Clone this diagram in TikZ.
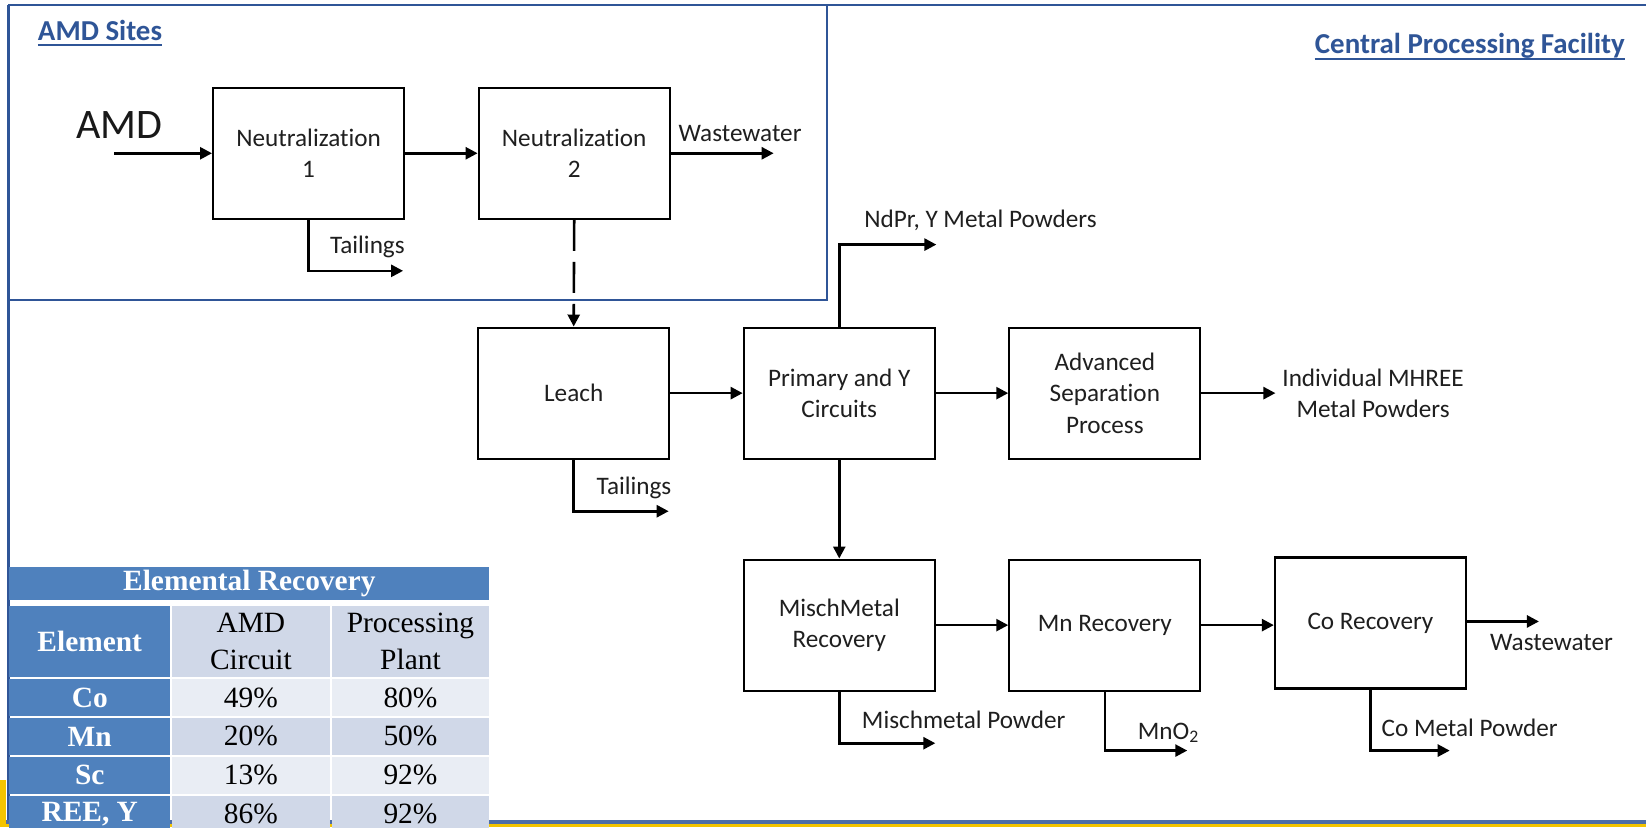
\documentclass[tikz,border=0pt]{standalone}
\usepackage{fontspec}
\setmainfont{Carlito}[Ligatures=NoCommon]
\newfontfamily\tabfont{Liberation Serif}
\usetikzlibrary{arrows.meta,calc}
\definecolor{frameblue}{RGB}{47,85,151}
\definecolor{tblue}{RGB}{79,129,189}
\definecolor{tlightA}{RGB}{208,216,232}
\definecolor{tlightB}{RGB}{233,237,244}
\definecolor{gold}{RGB}{244,196,0}
\begin{document}
\begin{tikzpicture}[x=1.0497pt,y=-1.0497pt,
  procbox/.style={draw=black, line width=2.2pt, minimum width=191pt, minimum height=131pt,
    align=center, font=\fontsize{25.2}{31.5}\selectfont, inner sep=0pt, text=black!88},
  flow/.style={line width=2.6pt, -{Triangle[length=12pt,width=12pt]}},
  lbl/.style={font=\fontsize{25.2}{31}\selectfont, inner sep=0pt, align=center, text=black!88},
  title/.style={font=\fontsize{28.9}{34}\selectfont\bfseries, inner sep=0pt, text=frameblue},
  tcell/.style={inner sep=0pt, align=center, font=\tabfont\fontsize{29.4}{36.7}\selectfont},
  thead/.style={tcell, fill=tblue, text=white, font=\tabfont\bfseries\fontsize{29.4}{36.7}\selectfont},
]
\clip (0,0) rectangle (1568,788);
\fill[white] (0,0) rectangle (1568,788);

% frames
\draw[frameblue, line width=2.4pt] (8,5) -- (1568,5);
\draw[frameblue, line width=2.4pt] (8,5) -- (8,788);
\draw[frameblue, line width=2.2pt] (8,286) -- (788,286) -- (788,5);
\fill[frameblue!85] (0,781) rectangle (1568,784.5);
\fill[gold] (0,784.5) rectangle (1568,788);
\fill[gold] (0,743) rectangle (6,788);

% titles
\node[title, anchor=base west] (amdsites) at (36,39) {AMD Sites};
\draw[frameblue, line width=2.4pt] (amdsites.base west |- 0,43) -- (amdsites.base east |- 0,43);
\node[title, anchor=base east] (cpf) at (1548,51) {Central Processing Facility};
\draw[frameblue, line width=2.4pt] (cpf.base west |- 0,56) -- (cpf.base east |- 0,56);

% process boxes
\node[procbox] (n1) at (294,146) {Neutralization\\1};
\node[procbox] (n2) at (547,146) {Neutralization\\2};
\node[procbox] (leach) at (546.5,374.5) {Leach};
\node[procbox] (prim) at (799.5,374.5) {Primary and Y\\Circuits};
\node[procbox] (adv) at (1052.5,374.5) {Advanced\\Separation\\Process};
\node[procbox] (misch) at (799.5,595.5) {MischMetal\\Recovery};
\node[procbox] (mn) at (1052.5,595.5) {Mn Recovery};
\node[procbox] (co) at (1305.5,593.5) {Co Recovery};

% big AMD label
\node[inner sep=0pt, anchor=base, font=\fontsize{42}{48}\selectfont, text=black!90] (amd) at (114,132) {AMD};

% free ends
\coordinate (amdstart) at (109,146);
\coordinate (ww1end) at (737,146);
\coordinate (t1end) at (384,258);
\coordinate (t2end) at (637,487);
\coordinate (ndend) at (892,233);
\coordinate (indend) at (1215,374.5);
\coordinate (mpend) at (891,708);
\coordinate (mnoend) at (1131,715);
\coordinate (cmend) at (1381,715);
\coordinate (ww2end) at (1466,592);

% connectors
\draw[flow] (amdstart) -- (n1.west);
\draw[flow] (n1.east) -- (n2.west);
\draw[flow] (n2.east) -- (ww1end);
\draw[flow] (n1.south) |- (t1end);
\draw[flow, dash pattern=on 31pt off 11pt] (n2.south) -- (leach.north);
\draw[flow] (leach.south) |- (t2end);
\draw[flow] (leach.east) -- (prim.west);
\draw[flow] (prim.north) |- (ndend);
\draw[flow] (prim.east) -- (adv.west);
\draw[flow] (adv.east) -- (indend);
\draw[flow] (prim.south) -- (misch.north);
\draw[flow] (misch.east) -- (mn.west);
\draw[flow] (mn.east) -- (mn.east -| co.west);
\draw[flow] (co.east |- ww2end) -- (ww2end);
\draw[flow] (misch.south) |- (mpend);
\draw[flow] (mn.south) |- (mnoend);
\draw[flow] (co.south) |- (cmend);

% labels
\node[lbl] (lww1) at (705,127) {Wastewater};
\node[lbl] (ltail1) at (350,235) {Tailings};
\node[lbl] (ltail2) at (604,465) {Tailings};
\node[lbl] (lnd) at (934,210) {NdPr, Y Metal Powders};
\node[lbl] (lind) at (1308,375) {Individual MHREE\\Metal Powders};
\node[lbl] (lmp) at (918,686) {Mischmetal Powder};
\node[lbl] (lmno) at (1113,698) {MnO\textsubscript{2}};
\node[lbl] (lcm) at (1400,693) {Co Metal Powder};
\node[lbl] (lww2) at (1478,612) {Wastewater};

% table
\node[thead, minimum width=479.7pt, minimum height=33.6pt] (ttitle) at (237.5,556) {Elemental Recovery};
\node[thead, minimum width=160.6pt, minimum height=71.4pt] (thel) at (85.5,611) {Element};
\node[tcell, fill=tlightA, minimum width=157.5pt, minimum height=71.4pt] (thamd) at (239,611) {AMD\\Circuit};
\node[tcell, fill=tlightA, minimum width=157.5pt, minimum height=71.4pt] (thpp) at (391,611) {Processing\\Plant};

\node[thead, minimum width=160.6pt, minimum height=36.7pt] (rco) at (85.5,664.5) {Co};
\node[tcell, fill=tlightB, minimum width=157.5pt, minimum height=36.7pt] (rcoa) at (239,664.5) {49\%};
\node[tcell, fill=tlightB, minimum width=157.5pt, minimum height=36.7pt] (rcop) at (391,664.5) {80\%};

\node[thead, minimum width=160.6pt, minimum height=36.7pt] (rmn) at (85.5,701.5) {Mn};
\node[tcell, fill=tlightA, minimum width=157.5pt, minimum height=36.7pt] (rmna) at (239,701.5) {20\%};
\node[tcell, fill=tlightA, minimum width=157.5pt, minimum height=36.7pt] (rmnp) at (391,701.5) {50\%};

\node[thead, minimum width=160.6pt, minimum height=36.7pt] (rsc) at (85.5,738.5) {Sc};
\node[tcell, fill=tlightB, minimum width=157.5pt, minimum height=36.7pt] (rsca) at (239,738.5) {13\%};
\node[tcell, fill=tlightB, minimum width=157.5pt, minimum height=36.7pt] (rscp) at (391,738.5) {92\%};

\node[thead, minimum width=160.6pt, minimum height=36.7pt] (rree) at (85.5,775.5) {REE, Y};
\node[tcell, fill=tlightA, minimum width=157.5pt, minimum height=36.7pt] (rreea) at (239,775.5) {86\%};
\node[tcell, fill=tlightA, minimum width=157.5pt, minimum height=36.7pt] (rreep) at (391,775.5) {92\%};
\end{tikzpicture}
\end{document}
